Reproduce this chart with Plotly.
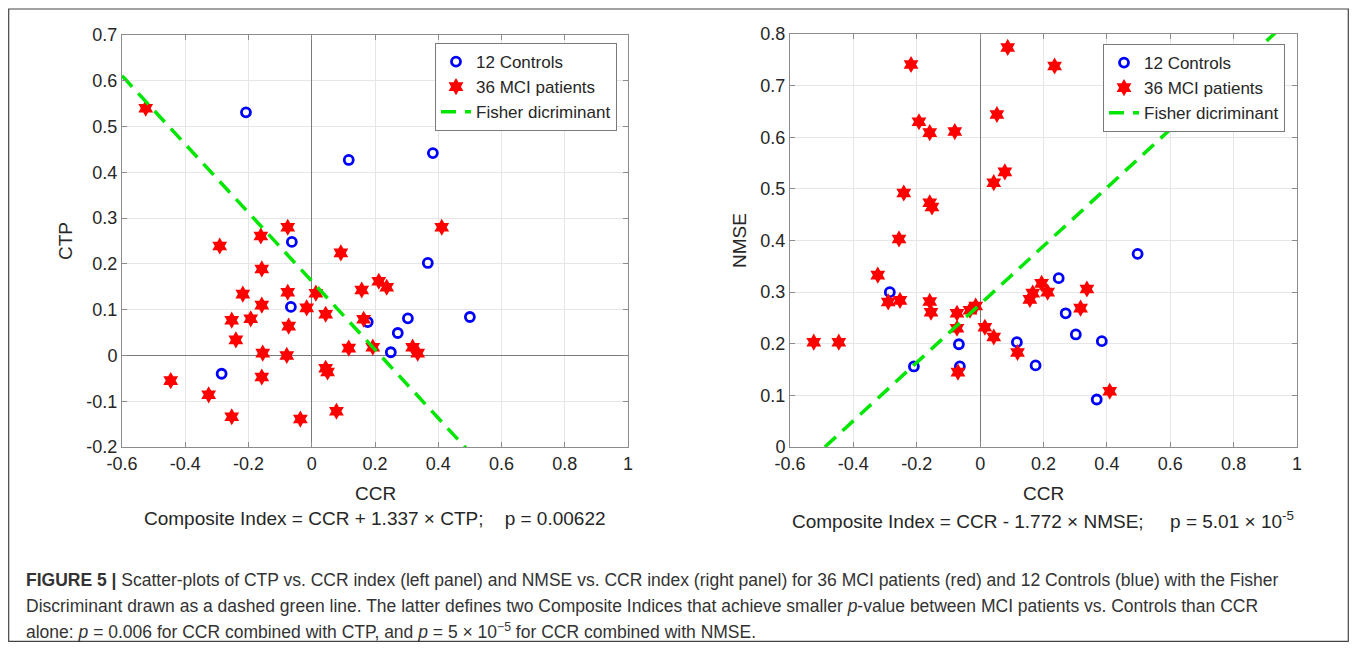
import plotly.graph_objects as go
import numpy as np

# page body has an 8px margin: figure is 16px smaller and reference pixels are shifted by 8
OFF = 8
W, H = 1357 - 2 * OFF, 650 - 2 * OFF

# ---------------- data (left panel: CTP vs CCR) ----------------
ctrl_ccr_L = [-0.208, 0.117, 0.383, -0.063, -0.066, -0.285, 0.367, 0.177, 0.304, 0.500, 0.272, 0.250]
ctrl_ctp_L = [0.531, 0.427, 0.442, 0.248, 0.106, -0.040, 0.202, 0.073, 0.081, 0.084, 0.049, 0.007]

mci_ccr_L = [-0.525, 0.411, -0.161, -0.076, -0.291, 0.092, -0.158, -0.218, -0.076, 0.013,
             0.158, -0.158, -0.016, 0.044, -0.253, -0.193, -0.073, 0.164, -0.240, 0.117,
             0.193, -0.155, -0.079, 0.044, 0.050, -0.446, -0.158, -0.326, -0.253, -0.036,
             0.078, 0.212, 0.237, 0.319, 0.335]
mci_ctp_L = [0.540, 0.280, 0.261, 0.280, 0.239, 0.224, 0.189, 0.134, 0.138, 0.136,
             0.143, 0.110, 0.104, 0.090, 0.077, 0.080, 0.064, 0.079, 0.034, 0.016,
             0.018, 0.005, 0.000, -0.028, -0.036, -0.055, -0.047, -0.086, -0.134, -0.139,
             -0.122, 0.162, 0.149, 0.018, 0.005]

# ---------------- data (right panel: NMSE vs CCR) ----------------
ctrl_ccr_R = [0.497, 0.248, 0.270, 0.302, 0.384, 0.116, 0.175, 0.368, -0.285, -0.209, -0.067, -0.064]
ctrl_nmse_R = [0.374, 0.327, 0.259, 0.218, 0.205, 0.203, 0.158, 0.092, 0.300, 0.156, 0.199, 0.156]

mci_ccr_R = [-0.218, 0.087, -0.193, -0.159, -0.080, 0.053, 0.078, 0.043, -0.241, -0.159,
             -0.152, -0.256, 0.235, -0.323, -0.290, -0.253, -0.159, -0.155, -0.073, -0.032,
             -0.014, -0.073, 0.015, 0.043, -0.525, -0.446, -0.070, 0.118, 0.194, 0.166,
             0.157, 0.213, 0.337, 0.317, 0.409]
mci_nmse_R = [0.741, 0.774, 0.630, 0.609, 0.611, 0.644, 0.533, 0.512, 0.492, 0.473,
              0.465, 0.403, 0.738, 0.333, 0.281, 0.284, 0.282, 0.261, 0.259, 0.265,
              0.273, 0.230, 0.232, 0.213, 0.203, 0.203, 0.145, 0.183, 0.317, 0.298,
              0.286, 0.300, 0.306, 0.269, 0.108]

# Fisher discriminants: CCR + a*CTP = cL ; CCR - b*NMSE = cR
coef_ctp, const_L = 1.337, 0.217
coef_nmse, const_R = 1.772, -0.490

x_ticks = [-0.6, -0.4, -0.2, 0, 0.2, 0.4, 0.6, 0.8, 1]
x_ticktext = ["-0.6", "-0.4", "-0.2", "0", "0.2", "0.4", "0.6", "0.8", "1"]
yL_ticks = [-0.2, -0.1, 0, 0.1, 0.2, 0.3, 0.4, 0.5, 0.6, 0.7]
yL_ticktext = ["-0.2", "-0.1", "0", "0.1", "0.2", "0.3", "0.4", "0.5", "0.6", "0.7"]
yR_ticks = [0, 0.1, 0.2, 0.3, 0.4, 0.5, 0.6, 0.7, 0.8]
yR_ticktext = ["0", "0.1", "0.2", "0.3", "0.4", "0.5", "0.6", "0.7", "0.8"]

legend_names = ["12 Controls", "36 MCI patients", "Fisher dicriminant"]

# ---------------- styling ----------------
FONT = "Liberation Sans, Arial, Helvetica, sans-serif"
BLUE, RED, GREEN = "#0000ff", "#ff0000", "#00e600"
TXT = "#262626"

fig = go.Figure()

def px_x(p):
    return (p - OFF) / W

def px_y(p):
    return 1 - (p - OFF) / H

ctrl_marker = dict(symbol="circle-open", size=9, color=BLUE, line=dict(width=2.8, color=BLUE))
mci_marker = dict(symbol="hexagram", size=13, color=RED, line=dict(width=0))
fisher_line = dict(color=GREEN, width=3.5, dash="15px,9px")

# Left panel traces
fig.add_trace(go.Scatter(x=ctrl_ccr_L, y=ctrl_ctp_L, mode="markers", name=legend_names[0],
                         marker=ctrl_marker, xaxis="x", yaxis="y", legend="legend"))
fig.add_trace(go.Scatter(x=mci_ccr_L, y=mci_ctp_L, mode="markers", name=legend_names[1],
                         marker=mci_marker, xaxis="x", yaxis="y", legend="legend"))
xl = np.array([-0.6, 1.0])
fig.add_trace(go.Scatter(x=xl, y=(const_L - xl) / coef_ctp, mode="lines", name=legend_names[2],
                         line=fisher_line, xaxis="x", yaxis="y", legend="legend"))

# Right panel traces
fig.add_trace(go.Scatter(x=ctrl_ccr_R, y=ctrl_nmse_R, mode="markers", name=legend_names[0],
                         marker=ctrl_marker, xaxis="x2", yaxis="y2", legend="legend2"))
fig.add_trace(go.Scatter(x=mci_ccr_R, y=mci_nmse_R, mode="markers", name=legend_names[1],
                         marker=mci_marker, xaxis="x2", yaxis="y2", legend="legend2"))
xr = np.array([const_R, 1.0])
fig.add_trace(go.Scatter(x=xr, y=(xr - const_R) / coef_nmse, mode="lines", name=legend_names[2],
                         line=fisher_line, xaxis="x2", yaxis="y2", legend="legend2"))

axis_common = dict(showgrid=True, gridcolor="#e6e6e6", gridwidth=1,
                   showline=True, linecolor="#8c8c8c", linewidth=1, mirror="allticks",
                   ticks="inside", ticklen=5, tickcolor="#8c8c8c",
                   tickfont=dict(family=FONT, size=18, color=TXT),
                   zeroline=True, zerolinecolor="#7a7a7a", zerolinewidth=1)

legend_common = dict(bgcolor="white", bordercolor="#7a7a7a", borderwidth=1,
                     font=dict(family=FONT, size=17, color=TXT),
                     xanchor="left", yanchor="top", tracegroupgap=0, itemwidth=30)

fig.update_layout(
    width=W, height=H,
    margin=dict(l=0, r=0, t=0, b=0, autoexpand=False),
    paper_bgcolor="white", plot_bgcolor="white",
    xaxis=dict(axis_common, domain=[px_x(122), px_x(628)], range=[-0.6, 1],
               tickvals=x_ticks, ticktext=x_ticktext, anchor="y"),
    yaxis=dict(axis_common, domain=[px_y(447), px_y(35)], range=[-0.2, 0.7],
               tickvals=yL_ticks, ticktext=yL_ticktext, anchor="x"),
    xaxis2=dict(axis_common, domain=[px_x(790), px_x(1297)], range=[-0.6, 1],
                tickvals=x_ticks, ticktext=x_ticktext, anchor="y2"),
    yaxis2=dict(axis_common, domain=[px_y(447), px_y(34)], range=[0, 0.8],
                tickvals=yR_ticks, ticktext=yR_ticktext, anchor="x2"),
    legend=dict(legend_common, x=px_x(435), y=px_y(43)),
    legend2=dict(legend_common, x=px_x(1103), y=px_y(44)),
    showlegend=True,
)

ann_font = dict(family=FONT, size=19, color=TXT)
annotations = [
    dict(text="CTP", x=px_x(66), y=px_y(241), textangle=-90),
    dict(text="CCR", x=px_x(375), y=px_y(493)),
    dict(text="Composite Index = CCR + 1.337 × CTP;\u00a0\u00a0\u00a0\u00a0p = 0.00622", x=px_x(375), y=px_y(518)),
    dict(text="NMSE", x=px_x(740), y=px_y(241), textangle=-90),
    dict(text="CCR", x=px_x(1043), y=px_y(493)),
    dict(text="Composite Index = CCR - 1.772 × NMSE;\u00a0\u00a0\u00a0\u00a0\u00a0p = 5.01 × 10<sup>-5</sup>", x=px_x(1043), y=px_y(520)),
]
for a in annotations:
    fig.add_annotation(xref="paper", yref="paper", showarrow=False, font=ann_font,
                       xanchor="center", yanchor="middle", **a)

cap_font = dict(family=FONT, size=17.5, color="#333333")
caption_lines = [
    "<b>FIGURE 5 |</b> Scatter-plots of CTP vs. CCR index (left panel) and NMSE vs. CCR index (right panel) for 36 MCI patients (red) and 12 Controls (blue) with the Fisher",
    "Discriminant drawn as a dashed green line. The latter defines two Composite Indices that achieve smaller <i>p</i>-value between MCI patients vs. Controls than CCR",
    "alone: <i>p</i> = 0.006 for CCR combined with CTP, and <i>p</i> = 5 × 10<sup>−5</sup> for CCR combined with NMSE.",
]
for i, line in enumerate(caption_lines):
    fig.add_annotation(xref="paper", yref="paper", showarrow=False, font=cap_font,
                       xanchor="left", yanchor="middle", x=px_x(24), y=px_y(580 + 25.5 * i), text=line)

# outer frame
fig.add_shape(type="rect", xref="paper", yref="paper",
              x0=px_x(8.7), x1=px_x(1348.3), y0=px_y(641.3), y1=px_y(9),
              line=dict(color="#444444", width=1.2), fillcolor="rgba(0,0,0,0)", layer="above")

fig.write_html("out.html")
